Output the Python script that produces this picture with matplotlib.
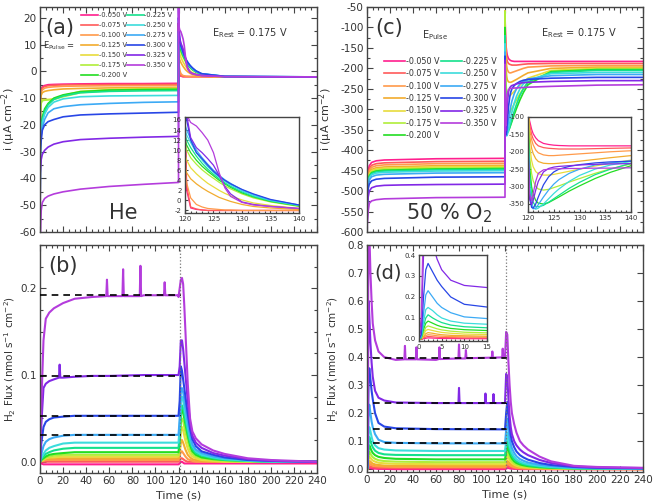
import matplotlib
matplotlib.use('Agg')
import matplotlib.pyplot as plt
from matplotlib.ticker import MultipleLocator

plt.rcParams['font.family'] = ['DejaVu Sans']
plt.rcParams['mathtext.default'] = 'regular'
plt.rcParams['axes.unicode_minus'] = False

potentials = ['-0.050 V', '-0.075 V', '-0.100 V', '-0.125 V', '-0.150 V', '-0.175 V', '-0.200 V',
              '-0.225 V', '-0.250 V', '-0.275 V', '-0.300 V', '-0.325 V', '-0.350 V']
colors = ['#ff1f8e', '#ff5a5a', '#ff9a4a', '#f2ac2e', '#e8dc3c', '#b0ee3a', '#22dd22',
          '#14e08c', '#3cdcdc', '#3caaf5', '#2846e6', '#8228e6', '#b43cdc']

# ---------------- (a) current, He ----------------
tA_pulse = [0, 0.3, 1, 2, 4, 7, 12, 20, 35, 60, 90, 120]
iA_pulse = [
    [-62, -8, -6.5, -5.8, -5.3, -5.0, -4.9, -4.8, -4.7, -4.6, -4.6, -4.5],
    [-62, -9, -7, -6.2, -5.7, -5.4, -5.2, -5.1, -5.0, -4.95, -4.9, -4.9],
    [-62, -10, -8, -7, -6.3, -6.0, -5.8, -5.6, -5.5, -5.4, -5.35, -5.3],
    [-62, -11, -9, -8, -7.5, -7.2, -6.9, -6.6, -6.4, -6.2, -6.1, -6.0],
    [-62, -14, -11, -10.5, -10.5, -10.5, -10.3, -9.0, -7.5, -6.8, -6.5, -6.4],
    [-62, -16, -12, -11, -10.8, -10.7, -10.5, -9.5, -8.0, -7.2, -6.9, -6.8],
    [-62, -22, -20, -17, -14, -12, -10, -8.8, -7.6, -7.0, -6.8, -6.7],
    [-62, -24, -21, -18, -15, -12.5, -10.5, -9.2, -8.0, -7.5, -7.3, -7.2],
    [-62, -26, -22, -19, -16, -13.5, -11.5, -10.3, -9.5, -9.2, -9.1, -9.0],
    [-62, -28, -24, -21, -18, -15.5, -14, -13.2, -12.5, -12, -11.6, -11.4],
    [-62, -30, -26, -22, -20, -18.8, -18, -17, -16.3, -15.9, -15.6, -15.3],
    [-62, -38, -33, -31, -29.5, -28.3, -27.2, -26.3, -25.5, -25, -24.6, -24.3],
    [-70, -62, -52, -49, -47.5, -46.6, -45.8, -45, -44, -43, -42.2, -41.5],
]
tA_rest = [120, 120.3, 121, 122, 123, 124, 125, 126, 127, 128, 130, 132, 135, 140, 160, 240]
iA_rest = [
    [18, 2, -1.5, -1.8, -1.9, -2.0, -2.0, -2.0, -2.0, -2.0, -2.0, -2.0, -2.0, -2.0, -2.1, -2.1],
    [18, 3, -1.3, -1.7, -1.9, -2.0, -2.0, -2.0, -2.0, -2.0, -2.0, -2.0, -2.0, -2.0, -2.1, -2.1],
    [5, 3.5, 0.5, -0.8, -1.3, -1.6, -1.7, -1.8, -1.9, -1.9, -2.0, -2.0, -2.0, -2.0, -2.1, -2.1],
    [7, 5.5, 4.3, 3.3, 2.5, 1.8, 1.2, 0.6, 0.2, -0.2, -0.8, -1.2, -1.5, -1.8, -2.1, -2.1],
    [9, 8, 6.5, 5.3, 4.3, 3.4, 2.7, 2.0, 1.4, 0.9, 0.1, -0.5, -1.0, -1.6, -2.1, -2.2],
    [11, 10, 8.5, 7.2, 6.1, 5.2, 4.4, 3.6, 2.9, 2.3, 1.3, 0.5, -0.3, -1.2, -2.0, -2.2],
    [12, 11, 9.5, 8.0, 6.8, 5.8, 4.9, 4.0, 3.3, 2.6, 1.5, 0.7, -0.2, -1.1, -2.0, -2.2],
    [13, 12, 10.5, 8.8, 7.4, 6.2, 5.2, 4.3, 3.5, 2.8, 1.7, 0.8, -0.1, -1.0, -2.0, -2.2],
    [14, 13, 11.5, 9.5, 8.0, 6.7, 5.6, 4.6, 3.8, 3.1, 1.9, 1.0, 0.0, -1.0, -1.9, -2.1],
    [15, 14, 12.2, 10.0, 8.5, 7.2, 6.0, 5.0, 4.1, 3.4, 2.1, 1.2, 0.1, -0.9, -1.9, -2.1],
    [20, 16, 12, 9.5, 8.3, 7.0, 5.8, 4.8, 4.0, 3.3, 2.2, 1.3, 0.2, -0.9, -1.9, -2.1],
    [24, 17, 12.5, 10.5, 9.5, 8.3, 7.0, 5.0, 2.8, 1.3, -0.3, -0.8, -1.2, -1.6, -2.0, -2.1],
    [30, 17, 15.5, 14.8, 13.5, 12, 9.5, 5.5, 2.5, 0.8, -0.4, -0.9, -1.2, -1.6, -2.0, -2.1],
]

# ---------------- (c) current, 50 % O2 ----------------
tC_pulse = [0, 0.3, 1, 2, 4, 8, 15, 30, 60, 120]
iC_pulse = [
    [-620, -480, -450, -438, -430, -426, -424, -423, -421, -420],
    [-620, -487, -457, -445, -437, -433, -431, -430, -428, -427],
    [-620, -492, -462, -450, -442, -438, -436, -435, -433, -432],
    [-620, -497, -467, -455, -447, -443, -441, -440, -438, -437],
    [-620, -500, -470, -458, -450, -446, -444, -443, -441, -440],
    [-620, -503, -473, -461, -453, -449, -447, -446, -444, -443],
    [-620, -505, -475, -463, -455, -451, -449, -448, -446, -445],
    [-620, -507, -477, -465, -457, -453, -451, -450, -448, -447],
    [-620, -510, -480, -468, -460, -456, -454, -453, -451, -450],
    [-620, -515, -485, -473, -465, -461, -459, -458, -456, -455],
    [-620, -525, -495, -483, -475, -471, -469, -468, -466, -465],
    [-620, -545, -515, -500, -492, -488, -486, -485, -484, -483],
    [-620, -580, -550, -530, -524, -521, -519, -518, -516, -515],
]
tC_rest = [120, 120.3, 120.7, 121, 121.5, 122, 123, 124, 125, 126, 128, 130, 133, 136, 140, 160, 200, 240]
iC_rest = [
    [-60, -110, -135, -148, -160, -168, -176, -179, -181, -182, -183, -183, -183, -183, -183, -183, -183, -183],
    [-60, -120, -150, -163, -176, -183, -188, -190, -191, -192, -192, -192, -191, -190, -189, -188, -188, -188],
    [-60, -130, -165, -180, -195, -203, -209, -211, -211, -210, -208, -206, -203, -200, -197, -194, -193, -193],
    [-60, -150, -190, -205, -220, -228, -233, -234, -234, -233, -230, -227, -222, -217, -211, -200, -197, -197],
    [-60, -180, -225, -243, -257, -263, -267, -267, -265, -262, -256, -250, -241, -233, -224, -205, -200, -200],
    [-60, -210, -262, -283, -300, -307, -310, -308, -303, -298, -287, -277, -262, -249, -235, -207, -202, -202],
    [-100, -240, -300, -322, -340, -348, -350, -346, -338, -330, -313, -298, -277, -259, -240, -208, -203, -203],
    [-120, -260, -325, -345, -357, -358, -354, -345, -335, -325, -305, -288, -266, -250, -233, -210, -205, -205],
    [-140, -290, -345, -360, -365, -362, -350, -335, -320, -307, -285, -268, -250, -238, -228, -213, -210, -210],
    [-160, -310, -352, -364, -362, -352, -330, -310, -293, -280, -262, -250, -238, -232, -226, -218, -215, -215],
    [-170, -330, -360, -362, -350, -330, -295, -272, -258, -250, -242, -237, -232, -229, -227, -224, -222, -222],
    [-180, -335, -352, -340, -310, -285, -258, -248, -244, -242, -240, -238, -236, -235, -234, -232, -230, -230],
    [-190, -320, -340, -320, -285, -262, -252, -250, -249, -249, -248, -248, -247, -247, -246, -244, -241, -240],
]

# ---------------- (b) H2 flux, He ----------------
tB_pulse = [0, 1, 3, 5, 8, 12, 20, 30, 45, 60, 90, 120]
fB_pulse = [
    [0, -0.002, -0.003, -0.003, -0.003, -0.003, -0.003, -0.003, -0.003, -0.003, -0.003, -0.003],
    [0, 0.0, 0.0, 0.0, 0.0, 0.0, 0.0, 0.0, 0.0, 0.0, 0.0, 0.0],
    [0, 0.001, 0.001, 0.002, 0.002, 0.002, 0.002, 0.002, 0.002, 0.002, 0.002, 0.002],
    [0, 0.001, 0.002, 0.003, 0.003, 0.004, 0.004, 0.004, 0.004, 0.004, 0.004, 0.004],
    [0, 0.001, 0.002, 0.004, 0.005, 0.005, 0.006, 0.006, 0.006, 0.006, 0.006, 0.006],
    [0, 0.001, 0.003, 0.005, 0.006, 0.007, 0.008, 0.008, 0.008, 0.008, 0.008, 0.008],
    [0, 0.002, 0.004, 0.006, 0.008, 0.009, 0.010, 0.011, 0.011, 0.011, 0.011, 0.011],
    [0, 0.003, 0.006, 0.009, 0.011, 0.013, 0.015, 0.016, 0.016, 0.016, 0.016, 0.016],
    [0, 0.004, 0.009, 0.013, 0.016, 0.018, 0.021, 0.022, 0.022, 0.022, 0.022, 0.022],
    [0, 0.008, 0.018, 0.023, 0.026, 0.028, 0.030, 0.031, 0.031, 0.031, 0.031, 0.031],
    [0, 0.02, 0.04, 0.046, 0.049, 0.051, 0.052, 0.053, 0.053, 0.053, 0.053, 0.053],
    [0, 0.04, 0.085, 0.09, 0.093, 0.095, 0.097, 0.098, 0.099, 0.099, 0.1, 0.1],
    [0, 0.06, 0.14, 0.165, 0.172, 0.177, 0.183, 0.188, 0.19, 0.191, 0.192, 0.192],
]
tB_rest = [120, 121, 122, 123, 124, 125, 126, 128, 130, 132, 135, 140, 150, 160, 180, 200, 240]
fB_rest = [
    [-0.003, -0.002, 0, 0, -0.001, -0.002, -0.002, -0.002, -0.002, -0.002, -0.002, -0.002, -0.002, -0.002, -0.002, -0.002, -0.002],
    [0, 0.002, 0.004, 0.004, 0.003, 0.002, 0.001, 0, 0, 0, 0, 0, 0, 0, 0, 0, 0],
    [0.002, 0.006, 0.012, 0.012, 0.01, 0.008, 0.006, 0.003, 0.002, 0.001, 0, 0, 0, 0, 0, 0, 0],
    [0.004, 0.01, 0.022, 0.025, 0.022, 0.018, 0.014, 0.008, 0.005, 0.003, 0.002, 0.001, 0, 0, 0, 0, 0],
    [0.006, 0.015, 0.035, 0.04, 0.036, 0.03, 0.024, 0.015, 0.009, 0.006, 0.004, 0.002, 0.001, 0, 0, 0, 0],
    [0.008, 0.02, 0.045, 0.05, 0.047, 0.04, 0.034, 0.023, 0.014, 0.009, 0.006, 0.004, 0.002, 0.001, 0, 0, 0],
    [0.011, 0.025, 0.055, 0.06, 0.056, 0.05, 0.043, 0.03, 0.019, 0.012, 0.008, 0.005, 0.003, 0.002, 0.001, 0, 0],
    [0.016, 0.03, 0.06, 0.065, 0.062, 0.056, 0.048, 0.034, 0.022, 0.015, 0.01, 0.007, 0.004, 0.002, 0.001, 0, 0],
    [0.022, 0.04, 0.07, 0.075, 0.07, 0.063, 0.055, 0.04, 0.027, 0.018, 0.012, 0.008, 0.005, 0.003, 0.001, 0, 0],
    [0.031, 0.05, 0.08, 0.085, 0.08, 0.072, 0.063, 0.045, 0.03, 0.02, 0.014, 0.01, 0.006, 0.004, 0.002, 0.001, 0],
    [0.053, 0.07, 0.11, 0.105, 0.095, 0.085, 0.075, 0.055, 0.038, 0.026, 0.018, 0.012, 0.008, 0.005, 0.002, 0.001, 0],
    [0.1, 0.11, 0.14, 0.14, 0.13, 0.115, 0.1, 0.07, 0.045, 0.03, 0.022, 0.016, 0.01, 0.007, 0.003, 0.001, 0],
    [0.19, 0.2, 0.21, 0.212, 0.205, 0.18, 0.15, 0.09, 0.05, 0.035, 0.027, 0.02, 0.013, 0.009, 0.004, 0.002, 0],
]
spikeB_t_350 = [57.4, 58.0, 58.6, 71.4, 72.0, 72.6, 86.4, 87.0, 87.6, 107.4, 108.0, 108.6]
spikeB_f_350 = [0.191, 0.210, 0.191, 0.191, 0.222, 0.191, 0.191, 0.226, 0.191, 0.192, 0.207, 0.192]
spikeB_t_325 = [16.4, 17.0, 17.6]
spikeB_f_325 = [0.097, 0.112, 0.097]
dashB = [0.192, 0.099, 0.053, 0.031]

# ---------------- (d) H2 flux, 50 % O2 ----------------
tD_pulse = [0, 0.5, 1, 1.5, 2, 3, 4, 5, 7, 10, 15, 25, 60, 120]
fD_pulse = [
    [0, 0, 0.001, 0.003, 0.005, 0.004, 0.003, 0.002, 0.002, 0.001, 0.001, 0.0, 0.0, 0.0],
    [0, 0, 0.004, 0.009, 0.012, 0.01, 0.008, 0.007, 0.006, 0.005, 0.005, 0.004, 0.004, 0.004],
    [0, 0.001, 0.008, 0.016, 0.02, 0.018, 0.015, 0.013, 0.011, 0.01, 0.009, 0.008, 0.008, 0.008],
    [0, 0.001, 0.012, 0.025, 0.03, 0.027, 0.023, 0.02, 0.017, 0.015, 0.013, 0.012, 0.012, 0.012],
    [0, 0.002, 0.02, 0.04, 0.045, 0.04, 0.035, 0.031, 0.027, 0.023, 0.021, 0.019, 0.018, 0.018],
    [0, 0.003, 0.03, 0.055, 0.062, 0.055, 0.048, 0.043, 0.037, 0.032, 0.029, 0.027, 0.025, 0.025],
    [0, 0.004, 0.045, 0.075, 0.085, 0.075, 0.065, 0.058, 0.05, 0.044, 0.04, 0.037, 0.035, 0.035],
    [0, 0.005, 0.06, 0.1, 0.115, 0.1, 0.088, 0.078, 0.066, 0.058, 0.053, 0.051, 0.05, 0.05],
    [0, 0.01, 0.08, 0.14, 0.15, 0.135, 0.115, 0.1, 0.085, 0.075, 0.07, 0.067, 0.065, 0.065],
    [0, 0.01, 0.12, 0.21, 0.23, 0.2, 0.17, 0.15, 0.125, 0.105, 0.097, 0.094, 0.092, 0.092],
    [0, 0.02, 0.2, 0.33, 0.36, 0.32, 0.28, 0.25, 0.2, 0.165, 0.152, 0.146, 0.143, 0.142],
    [0, 0.05, 0.4, 0.6, 0.55, 0.45, 0.38, 0.33, 0.28, 0.255, 0.245, 0.238, 0.236, 0.236],
    [0, 0.1, 0.6, 0.9, 0.85, 0.7, 0.6, 0.52, 0.46, 0.42, 0.4, 0.39, 0.39, 0.4],
]
tD_rest = [120, 121, 122, 123, 124, 125, 126, 128, 130, 133, 136, 140, 150, 160, 180, 200, 240]
fD_rest = [
    [0, 0.002, 0.004, 0.004, 0.003, 0.002, 0.002, 0.001, 0.001, 0, 0, 0, 0, 0, 0, 0, 0],
    [0.004, 0.007, 0.012, 0.011, 0.009, 0.007, 0.006, 0.004, 0.003, 0.002, 0.002, 0.001, 0.001, 0, 0, 0, 0],
    [0.008, 0.013, 0.02, 0.018, 0.015, 0.012, 0.01, 0.007, 0.005, 0.004, 0.003, 0.003, 0.002, 0.001, 0.001, 0, 0],
    [0.012, 0.02, 0.03, 0.027, 0.022, 0.018, 0.015, 0.011, 0.008, 0.006, 0.005, 0.004, 0.003, 0.002, 0.001, 0.001, 0],
    [0.018, 0.03, 0.045, 0.04, 0.033, 0.027, 0.022, 0.016, 0.012, 0.009, 0.007, 0.006, 0.004, 0.003, 0.002, 0.001, 0.001],
    [0.025, 0.045, 0.06, 0.052, 0.043, 0.035, 0.029, 0.021, 0.016, 0.012, 0.01, 0.008, 0.005, 0.004, 0.002, 0.001, 0.001],
    [0.035, 0.06, 0.08, 0.068, 0.056, 0.046, 0.038, 0.028, 0.022, 0.017, 0.014, 0.011, 0.007, 0.005, 0.003, 0.002, 0.001],
    [0.05, 0.08, 0.1, 0.085, 0.07, 0.058, 0.048, 0.036, 0.028, 0.022, 0.018, 0.014, 0.009, 0.006, 0.003, 0.002, 0.001],
    [0.065, 0.1, 0.13, 0.105, 0.085, 0.07, 0.058, 0.044, 0.035, 0.027, 0.022, 0.018, 0.012, 0.008, 0.004, 0.003, 0.002],
    [0.092, 0.14, 0.18, 0.14, 0.11, 0.09, 0.075, 0.058, 0.046, 0.036, 0.03, 0.024, 0.016, 0.011, 0.006, 0.004, 0.002],
    [0.142, 0.2, 0.24, 0.19, 0.15, 0.12, 0.1, 0.078, 0.063, 0.05, 0.042, 0.034, 0.022, 0.015, 0.008, 0.005, 0.003],
    [0.236, 0.34, 0.33, 0.25, 0.19, 0.15, 0.125, 0.1, 0.085, 0.07, 0.06, 0.05, 0.033, 0.022, 0.01, 0.006, 0.004],
    [0.4, 0.49, 0.48, 0.38, 0.3, 0.24, 0.2, 0.16, 0.13, 0.1, 0.085, 0.07, 0.045, 0.028, 0.012, 0.008, 0.005],
]
spikeD_t_350 = [32.5, 33.0, 33.5, 42.5, 43.0, 43.5, 62.5, 63.0, 63.5, 79.5, 80.0, 80.5,
                85.5, 86.0, 86.5, 108.5, 109.0, 109.5, 117.5, 118.0, 118.5]
spikeD_f_350 = [0.392, 0.44, 0.392, 0.392, 0.435, 0.392, 0.393, 0.435, 0.393, 0.395, 0.445, 0.395,
                0.395, 0.425, 0.396, 0.398, 0.42, 0.398, 0.399, 0.43, 0.399]
spikeD_t_325 = [79.5, 80.0, 80.5, 102.5, 103.0, 103.5, 109.5, 110.0, 110.5]
spikeD_f_325 = [0.236, 0.29, 0.236, 0.236, 0.27, 0.236, 0.236, 0.268, 0.236]
dashD = [0.398, 0.236, 0.142, 0.092]

TXT = '#333333'


def merged(t1, y1, t2, y2):
    pts = sorted(zip(list(t1) + list(t2), list(y1) + list(y2)), key=lambda p: p[0])
    return [p[0] for p in pts], [p[1] for p in pts]


def style(ax, xmaj, xmin, ymaj, ymin, size, major_len=4, minor_len=2):
    ax.xaxis.set_major_locator(MultipleLocator(xmaj))
    if xmin:
        ax.xaxis.set_minor_locator(MultipleLocator(xmin))
    ax.yaxis.set_major_locator(MultipleLocator(ymaj))
    if ymin:
        ax.yaxis.set_minor_locator(MultipleLocator(ymin))
    ax.tick_params(which='both', direction='in', top=True, right=True,
                   labelsize=size, colors='#444444', labelcolor=TXT, width=0.8, pad=2.5)
    ax.tick_params(which='major', length=major_len)
    ax.tick_params(which='minor', length=minor_len)
    for s in ax.spines.values():
        s.set_color('#444444')
        s.set_linewidth(1.0)


fig = plt.figure(figsize=(6.55, 5.04), dpi=100)
axA = fig.add_axes([0.0611, 0.5397, 0.4229, 0.4464])
axB = fig.add_axes([0.0611, 0.0615, 0.4229, 0.4524])
axC = fig.add_axes([0.5603, 0.5397, 0.4214, 0.4464])
axD = fig.add_axes([0.5603, 0.0635, 0.4214, 0.4504])

# ---- (a)
for k in range(13):
    axA.plot(tA_pulse + tA_rest, iA_pulse[k] + iA_rest[k], color=colors[k], lw=1.2, label=potentials[k])
axA.set_xlim(0, 240)
axA.set_ylim(-60, 24)
style(axA, 20, 5, 10, 5, 7.5)
axA.tick_params(labelbottom=False)
axA.set_ylabel('i (\u03bcA cm$^{-2}$)', fontsize=8, color=TXT)
axA.yaxis.set_label_coords(-0.08, 0.5)
axA.text(0.02, 0.905, '(a)', transform=axA.transAxes, fontsize=15, color=TXT, va='center')
axA.text(0.62, 0.885, 'E$_{Rest}$ = 0.175 V', transform=axA.transAxes, fontsize=7, color=TXT, va='center')
axA.text(0.012, 0.827, 'E$_{Pulse}$ =', transform=axA.transAxes, fontsize=6, color=TXT, va='center')
axA.text(0.25, 0.085, 'He', transform=axA.transAxes, fontsize=15, color=TXT, va='center')
legA = axA.legend(loc='upper left', bbox_to_anchor=(0.135, 0.995), ncol=2, fontsize=4.8, frameon=False,
                  handlelength=2.5, handletextpad=0.1, columnspacing=0.0, labelspacing=0.6, borderpad=0.1)
for t in legA.get_texts():
    t.set_color(TXT)

insA = fig.add_axes([0.2824, 0.5774, 0.174, 0.1905])
for k in range(13):
    insA.plot(tA_rest, iA_rest[k], color=colors[k], lw=0.9)
insA.set_xlim(120, 140)
insA.set_ylim(-2.5, 16.6)
style(insA, 5, 1, 2, None, 5, 2.5, 1.3)
insA.tick_params(top=False, right=False, which='both')

# ---- (c)
for k in range(13):
    axC.plot(tC_pulse + tC_rest, iC_pulse[k] + iC_rest[k], color=colors[k], lw=1.2, label=potentials[k])
axC.set_xlim(0, 240)
axC.set_ylim(-600, -50)
style(axC, 20, 5, 50, 25, 7.5)
axC.tick_params(labelbottom=False)
axC.set_ylabel('i (\u03bcA cm$^{-2}$)', fontsize=8, color=TXT)
axC.yaxis.set_label_coords(-0.115, 0.5)
axC.text(0.03, 0.905, '(c)', transform=axC.transAxes, fontsize=15, color=TXT, va='center')
axC.text(0.2, 0.875, 'E$_{Pulse}$', transform=axC.transAxes, fontsize=7, color=TXT, va='center')
axC.text(0.63, 0.885, 'E$_{Rest}$ = 0.175 V', transform=axC.transAxes, fontsize=7, color=TXT, va='center')
axC.text(0.14, 0.085, '50 % O$_2$', transform=axC.transAxes, fontsize=15, color=TXT, va='center')
legC = axC.legend(loc='upper left', bbox_to_anchor=(0.045, 0.8), ncol=2, fontsize=5.8, frameon=False,
                  handlelength=2.6, handletextpad=0.15, columnspacing=0.15, labelspacing=0.42, borderpad=0.1)
for t in legC.get_texts():
    t.set_color(TXT)

insC = fig.add_axes([0.8061, 0.5794, 0.1573, 0.1885])
for k in range(13):
    insC.plot(tC_rest, iC_rest[k], color=colors[k], lw=0.9)
insC.set_xlim(120, 140)
insC.set_ylim(-373, -100)
style(insC, 5, 1, 50, None, 5, 2.5, 1.3)
insC.tick_params(top=False, right=False, which='both')

# ---- (b)
for k in range(13):
    t, y = tB_pulse + tB_rest, fB_pulse[k] + fB_rest[k]
    if k == 12:
        t, y = merged(t, y, spikeB_t_350, spikeB_f_350)
    if k == 11:
        t, y = merged(t, y, spikeB_t_325, spikeB_f_325)
    axB.plot(t, y, color=colors[k], lw=1.5)
for lvl in dashB:
    axB.plot([0, 122], [lvl, lvl], color='black', lw=1.2, ls=(0, (4, 3)), zorder=5)
axB.axvline(121, color='#777777', lw=0.9, ls=':', zorder=6)
axB.set_xlim(0, 240)
axB.set_ylim(-0.013, 0.25)
style(axB, 20, 5, 0.1, 0.025, 7.5)
axB.set_ylabel('H$_2$ Flux (nmol s$^{-1}$ cm$^{-2}$)', fontsize=7.5, color=TXT)
axB.yaxis.set_label_coords(-0.08, 0.5)
axB.set_xlabel('Time (s)', fontsize=8, color=TXT)
axB.xaxis.set_label_coords(0.5, -0.075)
axB.text(0.03, 0.91, '(b)', transform=axB.transAxes, fontsize=15, color=TXT, va='center')

# ---- (d)
for k in range(13):
    t, y = tD_pulse + tD_rest, fD_pulse[k] + fD_rest[k]
    if k == 12:
        t, y = merged(t, y, spikeD_t_350, spikeD_f_350)
    if k == 11:
        t, y = merged(t, y, spikeD_t_325, spikeD_f_325)
    axD.plot(t, y, color=colors[k], lw=1.5)
for lvl in dashD:
    axD.plot([5, 122], [lvl, lvl], color='black', lw=1.2, ls=(0, (4, 3)), zorder=5)
axD.axvline(121, color='#777777', lw=0.9, ls=':', zorder=6)
axD.set_xlim(0, 240)
axD.set_ylim(-0.01, 0.8)
style(axD, 20, 5, 0.1, None, 7.5)
axD.set_ylabel('H$_2$ Flux (nmol s$^{-1}$ cm$^{-2}$)', fontsize=7.5, color=TXT)
axD.yaxis.set_label_coords(-0.095, 0.5)
axD.set_xlabel('Time (s)', fontsize=8, color=TXT)
axD.xaxis.set_label_coords(0.5, -0.075)
axD.text(0.025, 0.875, '(d)', transform=axD.transAxes, fontsize=14, color=TXT, va='center')

insD = fig.add_axes([0.6397, 0.3234, 0.1038, 0.1706])
for k in range(13):
    insD.plot(tD_pulse, fD_pulse[k], color=colors[k], lw=0.9)
insD.set_xlim(0, 15)
insD.set_ylim(-0.01, 0.4)
style(insD, 5, 1, 0.1, None, 5, 2.5, 1.3)
insD.tick_params(top=False, right=False, which='both')

fig.savefig('out.png', dpi=100)
